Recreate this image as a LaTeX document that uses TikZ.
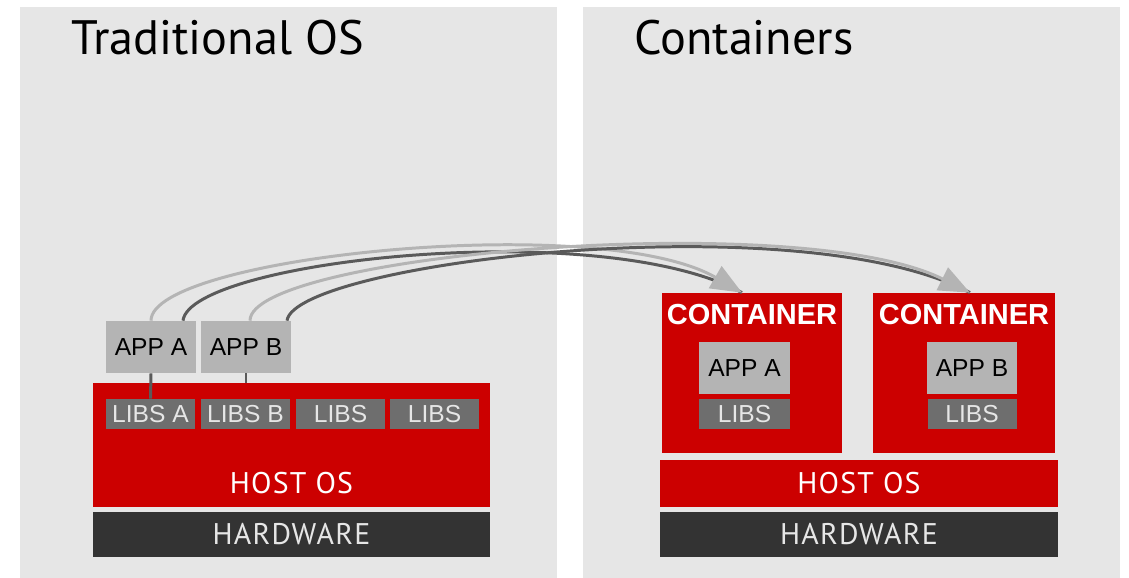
\documentclass[tikz,border=0pt]{standalone}
\usepackage{fontspec}
\setmainfont{Liberation Sans}
\newfontfamily\headfont{PT Sans}
\newfontfamily\layerfont[LetterSpace=4]{PT Sans}
\usetikzlibrary{arrows.meta}

\definecolor{panelgray}{HTML}{E6E6E6}
\definecolor{appgray}{HTML}{B4B4B4}
\definecolor{libgray}{HTML}{6E6E6E}
\definecolor{hwgray}{HTML}{333333}
\definecolor{rhred}{HTML}{CC0000}
\definecolor{linkdark}{HTML}{5A5A5A}

\tikzset{
  appbox/.style={fill=appgray, text=black, minimum width=1.8cm, minimum height=1.04cm,
    inner sep=0pt, font=\fontsize{14}{14}\selectfont},
  libbox/.style={fill=libgray, text=panelgray, minimum width=1.78cm, minimum height=0.6cm,
    inner sep=0pt, font=\fontsize{14}{14}\selectfont},
  redbox/.style={fill=rhred, inner sep=0pt},
  hwbox/.style={fill=hwgray, text=panelgray, inner sep=0pt, minimum width=7.94cm,
    minimum height=0.9cm, font=\layerfont\fontsize{17}{17}\selectfont},
  redtext/.style={text=white, font=\layerfont\fontsize{17}{17}\selectfont},
  boxtitle/.style={text=white, font=\bfseries\fontsize{16.5}{16.5}\selectfont},
  paneltitle/.style={anchor=base west, inner sep=0pt, font=\headfont\fontsize{27.5}{27.5}\selectfont},
  linklight/.style={draw=appgray, line width=1.7pt},
  linkdark/.style={draw=linkdark, line width=1.7pt},
  tip/.style={-{Triangle[length=0.62cm, width=0.5cm, color=appgray, fill=appgray]}}
}

\begin{document}
\begin{tikzpicture}[x=0.02cm, y=-0.02cm]
  \useasboundingbox (0,0) rectangle (1129,578);

  % two grey panels
  \fill[panelgray] (20,7) rectangle (557,578);
  \fill[panelgray] (583,7) rectangle (1120,578);
  \node[paneltitle] (ttrad) at (71,54) {Traditional OS};
  \node[paneltitle] (tcont) at (634,54) {Containers};

  % ---- traditional OS side ----
  \node[redbox, minimum width=7.94cm, minimum height=2.48cm,
    label={[redtext, anchor=center, yshift=0.48cm]south:HOST OS}] (hostL) at (291.5,445) {};
  \node[hwbox] (hwL) at (291.5,534.5) {HARDWARE};

  \node[libbox] (libA) at (150.5,414) {LIBS A};
  \node[libbox] (libB) at (245.5,414) {LIBS B};
  \node[libbox] (libC) at (340.5,414) {LIBS};
  \node[libbox] (libD) at (434.5,414) {LIBS};

  \node[appbox] (appA) at (151,347) {APP A};
  \node[appbox] (appB) at (246,347) {APP B};

  % apps hooked to their libs
  \draw[linkdark] (appA.south) -- (libA.north);
  \draw[linkdark] (appB.south) -- (appB.south |- hostL.north);

  % ---- containers side ----
  \node[redbox, redtext, minimum width=7.96cm, minimum height=0.94cm] (hostR) at (859,483.5) {HOST OS};
  \node[hwbox, minimum width=7.96cm] (hwR) at (859,534.5) {HARDWARE};

  \node[redbox, minimum width=3.6cm, minimum height=3.2cm,
    label={[boxtitle, anchor=center, yshift=-0.44cm]north:CONTAINER}] (cA) at (752,373) {};
  \node[redbox, minimum width=3.64cm, minimum height=3.2cm,
    label={[boxtitle, anchor=center, yshift=-0.44cm]north:CONTAINER}] (cB) at (964,373) {};

  \node[appbox, minimum width=1.82cm] (cappA) at (744.5,368) {APP A};
  \node[libbox, minimum width=1.82cm] (clibA) at (744.5,414) {LIBS};
  \node[appbox] (cappB) at (972,368) {APP B};
  \node[libbox] (clibB) at (972,414) {LIBS};

  % moving app and libs into the containers
  \draw[linkdark] ([xshift=0.64cm]appA.north) .. controls +(7,-60) and +(-142,-77) .. ([xshift=-0.2cm]cA.north);
  \draw[linklight, tip] (appA.north) .. controls +(0,-64) and +(-142,-82) .. ([xshift=-0.2cm]cA.north);
  \draw[linkdark] ([xshift=0.82cm]appB.north) .. controls +(8,-58) and +(-170,-90) .. ([xshift=0.12cm]cB.north);
  \draw[linklight, tip] ([xshift=0.08cm]appB.north) .. controls +(0,-66) and +(-170,-85) .. ([xshift=0.12cm]cB.north);
\end{tikzpicture}
\end{document}
